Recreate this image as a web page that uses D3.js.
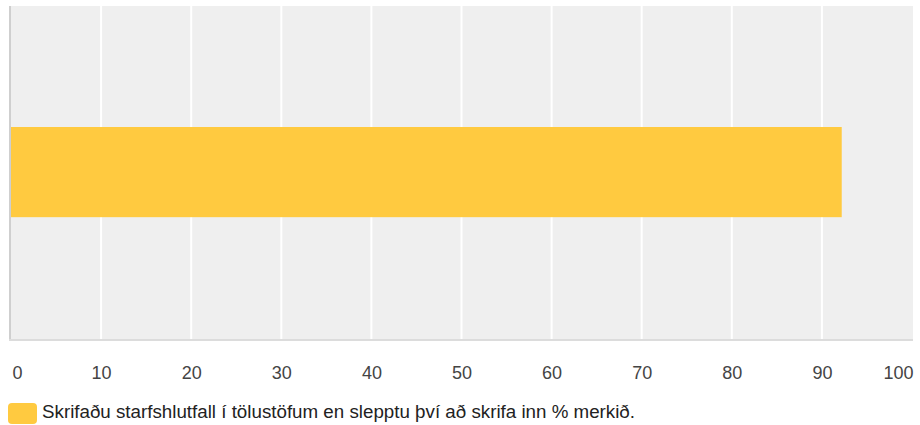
<!DOCTYPE html>
<html><head><meta charset="utf-8">
<script src="https://cdn.jsdelivr.net/npm/d3@7"></script>
<style>body{margin:0;background:#fff}svg{display:block;font-family:"Liberation Sans",Arial,sans-serif}</style>
</head><body><svg id="c" width="920" height="425"></svg>
<script>
const categories = ["Skrifaðu starfshlutfall í tölustöfum en slepptu því að skrifa inn % merkið."];
const values = [92.2];
const tickValues = [0,10,20,30,40,50,60,70,80,90,100];
const legendLabels = ["Skrifaðu starfshlutfall í tölustöfum en slepptu því að skrifa inn % merkið."];

const svg = d3.select("#c");
const L = 11, R = 912, T = 6, B = 340;
const x = d3.scaleLinear().domain([0,100]).range([L,R]);
const y = d3.scaleBand().domain(["a","b","c"]).range([T,B]);

svg.append("rect").attr("x",L).attr("y",T).attr("width",R-L+1).attr("height",B-T).attr("fill","#efefef");
svg.append("g").selectAll("line").data(tickValues.slice(1,-1)).join("line")
  .attr("x1",d=>x(d)).attr("x2",d=>x(d)).attr("y1",T).attr("y2",B)
  .attr("stroke","#fff").attr("stroke-width",2);
svg.append("g").selectAll("rect").data(values).join("rect")
  .attr("x",x(0)).attr("y",127).attr("width",d=>x(d)-x(0)).attr("height",y.bandwidth()*0.81)
  .attr("fill","#ffca40");
svg.append("line").attr("x1",L-1).attr("x2",L-1).attr("y1",T).attr("y2",B+1).attr("stroke","#cfcfcf").attr("stroke-width",2);
svg.append("line").attr("x1",L-2).attr("x2",R+1).attr("y1",B).attr("y2",B).attr("stroke","#dcdcdc").attr("stroke-width",2);

const ax = svg.append("g").attr("transform",`translate(0,${B})`)
  .call(d3.axisBottom(x).tickValues(tickValues).tickSize(0).tickPadding(0).tickFormat(d3.format("d")));
ax.select(".domain").remove();
ax.selectAll("text").attr("y",39).attr("dy",0).attr("font-size",18).attr("fill","#444")
  .attr("font-family","Liberation Sans, Arial, sans-serif")
  .attr("text-anchor",(d,i)=> i===0?"start":(i===tickValues.length-1?"end":"middle"))
  .attr("dx",(d,i)=> i===0?1:(i===tickValues.length-1?1:0));

const lg = svg.append("g");
lg.selectAll("rect").data(legendLabels).join("rect").attr("x",8).attr("y",403).attr("width",29).attr("height",21).attr("rx",4).attr("fill","#ffca40");
const lt = lg.selectAll("text").data(legendLabels).join("text").attr("x",42).attr("y",418).attr("font-size",16).attr("fill","#222").text(d=>d);
lt.each(function(){ const w=this.getComputedTextLength(); d3.select(this).attr("font-size",16*593/w); });
</script></body></html>
